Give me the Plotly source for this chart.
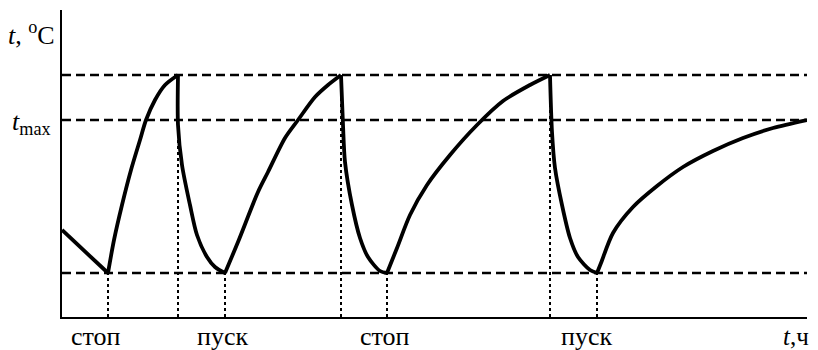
import plotly.graph_objects as go

# Levels (arbitrary temperature units)
T_MIN = 44
T_MAX = 197
T_PEAK = 242
X_END = 745
Y_TOP = 307

# Curve segments: time (arbitrary units) and temperature
seg0_t = [0, 46]
seg0_T = [87, 44]

rise1_t = [46, 52, 60, 69, 78, 84, 93, 103, 116]
rise1_T = [44, 77, 112, 147, 177, 197, 217, 232, 242]

drop1_t = [116, 116, 120, 128, 135, 145, 153, 163]
drop1_T = [242, 192, 152, 112, 82, 60, 50, 44]

rise2_t = [163, 176, 196, 206, 223, 236, 253, 266, 279]
rise2_T = [44, 75, 125, 145, 179, 197, 220, 232, 242]

drop2_t = [279, 281, 283, 290, 298, 306, 318, 325]
drop2_T = [242, 192, 155, 112, 79, 60, 46, 44]

rise3_t = [325, 335, 348, 365, 388, 415, 441, 468, 488]
rise3_T = [44, 69, 102, 132, 162, 192, 216, 232, 242]

drop3_t = [488, 490, 493, 500, 508, 516, 528, 535]
drop3_T = [242, 185, 149, 112, 79, 60, 47, 44]

rise4_t = [535, 539, 551, 571, 595, 621, 651, 681, 711, 745]
rise4_T = [44, 54, 84, 110, 131, 150, 166, 179, 189, 197]

# Event markers (vertical dotted lines)
event_t = [46, 116, 163, 279, 325, 488, 535]
event_T = [T_MIN, T_PEAK, T_MIN, T_PEAK, T_MIN, T_PEAK, T_MIN]

# Bottom labels
label_text = ["стоп", "пуск", "стоп", "пуск"]
label_t = [34, 160, 323, 524]

FONT = "Liberation Serif, Times New Roman, serif"

fig = go.Figure()

for lvl in [T_PEAK, T_MAX, T_MIN]:
    fig.add_trace(go.Scatter(x=[0, X_END], y=[lvl, lvl], mode="lines",
                             line=dict(color="black", width=2.5, dash="9px,5px"),
                             hoverinfo="skip", showlegend=False))

for xt, yt in zip(event_t, event_T):
    fig.add_trace(go.Scatter(x=[xt, xt], y=[0, yt], mode="lines",
                             line=dict(color="black", width=2, dash="3px,3px"),
                             hoverinfo="skip", showlegend=False))

segments = [(seg0_t, seg0_T, "linear"), (rise1_t, rise1_T, "spline"),
            (drop1_t, drop1_T, "spline"), (rise2_t, rise2_T, "spline"),
            (drop2_t, drop2_T, "spline"), (rise3_t, rise3_T, "spline"),
            (drop3_t, drop3_T, "spline"), (rise4_t, rise4_T, "spline")]
for xs, ys, shape in segments:
    fig.add_trace(go.Scatter(x=xs, y=ys, mode="lines",
                             line=dict(color="black", width=3.8, shape=shape, smoothing=0.8),
                             hoverinfo="skip", showlegend=False))


def px(x):
    return x / X_END


def py(y):
    return y / Y_TOP


annotations = []
for txt, xt in zip(label_text, label_t):
    annotations.append(dict(x=px(xt), y=py(-19), xref="paper", yref="paper", text=txt, showarrow=False,
                            font=dict(family=FONT, size=26, color="black"),
                            xanchor="center", yanchor="middle"))
annotations.append(dict(x=px(734), y=py(-19), xref="paper", yref="paper", text="<i>t</i>,ч", showarrow=False,
                        font=dict(family=FONT, size=25, color="black"),
                        xanchor="center", yanchor="middle"))
annotations.append(dict(x=px(-31), y=py(284), xref="paper", yref="paper", text="<i>t</i>, <sup>o</sup>C",
                        showarrow=False, font=dict(family=FONT, size=26, color="black"),
                        xanchor="center", yanchor="middle"))
annotations.append(dict(x=px(-31), y=py(T_MAX - 3), xref="paper", yref="paper", text="<i>t</i><sub>max</sub>",
                        showarrow=False, font=dict(family=FONT, size=26, color="black"),
                        xanchor="center", yanchor="middle"))

fig.update_layout(
    width=810, height=342,
    margin=dict(l=54, r=11, t=2, b=33),
    plot_bgcolor="white", paper_bgcolor="white",
    annotations=annotations,
    xaxis=dict(range=[0, X_END], showgrid=False, zeroline=False, showticklabels=False,
               ticks="", showline=True, linecolor="black", linewidth=2),
    yaxis=dict(range=[0, Y_TOP], showgrid=False, zeroline=False, showticklabels=False,
               ticks="", showline=True, linecolor="black", linewidth=2),
)

fig.write_html("out.html")
